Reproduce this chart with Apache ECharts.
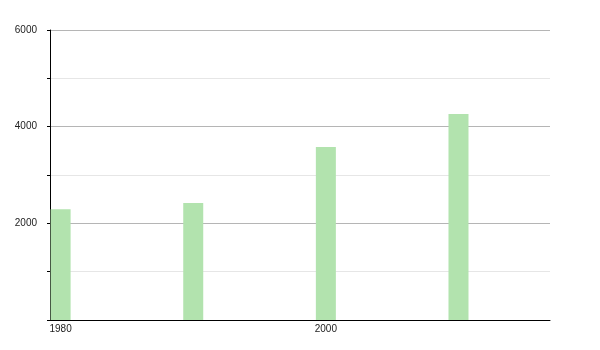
<!DOCTYPE html>
<html><head><meta charset="utf-8">
<script src="https://cdn.jsdelivr.net/npm/echarts@6/dist/echarts.min.js"></script>
<style>html,body{margin:0;padding:0;background:#fff}#c{width:600px;height:350px}</style>
</head><body><div id="c"></div>
<script>
const years = [1980, 1990, 2000, 2010];
const values = [2290, 2420, 3580, 4260];
const xLabels = [1980, 2000];
const yLabels = [2000, 4000, 6000];

const chart = echarts.init(document.getElementById('c'), null, {renderer: 'canvas'});
chart.setOption({
  animation: false,
  grid: {left: 50, right: 50, top: 30, bottom: 30},
  xAxis: {
    type: 'value', min: 1979.2, max: 2016.9,
    axisLine: {show: true, lineStyle: {color: '#000', width: 1}},
    axisTick: {show: false},
    splitLine: {show: false},
    axisLabel: {customValues: xLabels, color: '#222', fontSize: 10, fontFamily: 'Liberation Sans', margin: 4,
      formatter: v => String(v)}
  },
  yAxis: {
    type: 'value', min: 0, max: 6000, interval: 1000,
    axisLine: {show: true, lineStyle: {color: '#000', width: 1}},
    axisTick: {show: true, length: 3, lineStyle: {color: '#000'}},
    splitLine: {show: true, lineStyle: {color: ['#b5b5b5', '#e6e6e6'], width: 1}},
    axisLabel: {color: '#222', fontSize: 10, fontFamily: 'Liberation Sans', margin: 13,
      formatter: v => yLabels.includes(v) ? String(v) : ''}
  },
  series: [{
    type: 'bar', barWidth: 20,
    itemStyle: {color: '#b2e3ae'},
    data: years.map((y, i) => [y, values[i]])
  }]
});
</script></body></html>
